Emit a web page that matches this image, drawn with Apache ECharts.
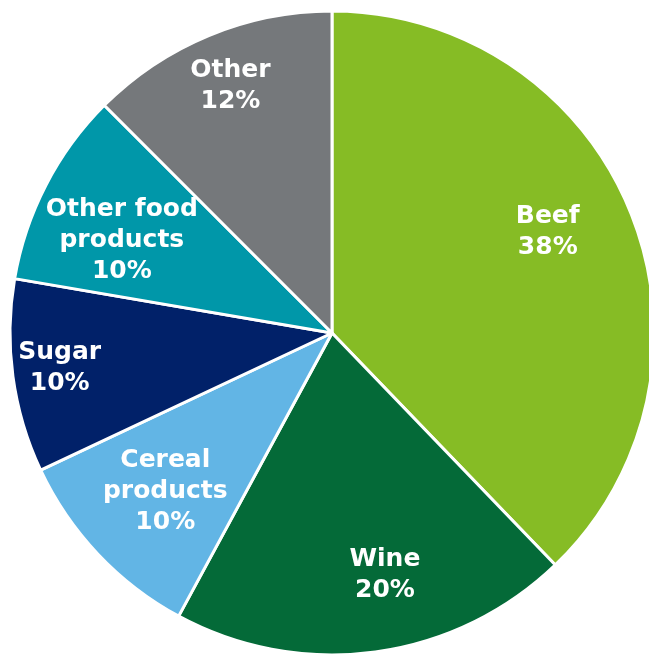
<!DOCTYPE html>
<html>
<head>
<meta charset="utf-8">
<script src="https://cdn.jsdelivr.net/npm/echarts@6/dist/echarts.min.js"></script>
<style>html,body{margin:0;padding:0;background:#fff;}#c{width:649px;height:655px;}</style>
</head>
<body>
<div id="c"></div>
<script>
const categories = ["Beef", "Wine", "Cereal\nproducts", "Sugar", "Other food\nproducts", "Other"];
const values = [37.8, 20.1, 10.1, 9.7, 9.8, 12.5];
const percentLabels = ["38%", "20%", "10%", "10%", "10%", "12%"];
const colors = ["#86bc25", "#046a38", "#62b5e5", "#012169", "#0097a9", "#75787b"];
// label nudges (px) relative to the default inside position
const labelNudge = [[-11, -10], [20, 0], [11, -9], [-30, 2], [7, 20], [-8, -21]];

const chart = echarts.init(document.getElementById('c'), null, {renderer: 'canvas'});
const center = [332, 333];
const R = 322;
chart.setOption({
  animation: false,
  series: [
    {
      type: 'pie',
      center: center,
      radius: [0, R],
      startAngle: 90,
      clockwise: true,
      silent: true,
      data: categories.map((n, i) => ({name: n, value: values[i], itemStyle: {color: colors[i]}})),
      itemStyle: {borderColor: '#fff', borderWidth: 3},
      label: {show: false},
      labelLine: {show: false}
    },
    {
      type: 'pie',
      center: center,
      radius: [R * 0.5, R],
      startAngle: 90,
      clockwise: true,
      silent: true,
      data: categories.map((n, i) => ({
        name: n, value: values[i],
        label: {offset: labelNudge[i]}
      })),
      itemStyle: {color: 'rgba(0,0,0,0)', borderWidth: 0},
      label: {
        show: true,
        position: 'inside',
        formatter: p => p.name + '\n' + percentLabels[p.dataIndex],
        color: '#fff',
        fontFamily: 'DejaVu Sans',
        fontWeight: 'bold',
        fontSize: 25,
        lineHeight: 31,
        align: 'center'
      },
      labelLine: {show: false}
    }
  ]
});
</script>
</body>
</html>
